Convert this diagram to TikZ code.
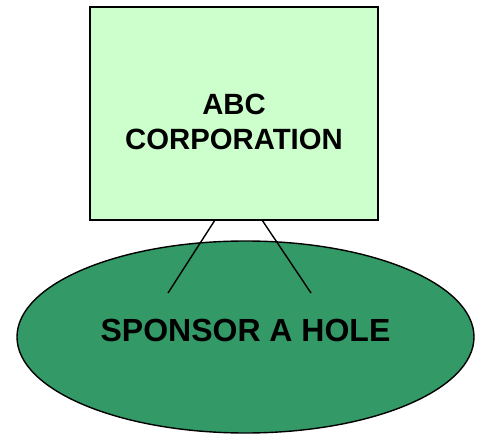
\documentclass[tikz,border=0pt]{standalone}
\usepackage{fontspec}
\setmainfont{Liberation Sans}
\usetikzlibrary{shapes.geometric}
\definecolor{boxgreen}{HTML}{CCFFCC}
\definecolor{holegreen}{HTML}{339966}

\begin{document}
\begin{tikzpicture}[x=1pt, y=-1pt,
    sponsorbox/.style={draw, line width=2pt, fill=boxgreen, minimum width=288pt, minimum height=213pt, inner sep=0pt},
    holeshape/.style={ellipse, draw, line width=1.4pt, fill=holegreen, minimum width=457pt, minimum height=192pt, inner sep=0pt},
    tie/.style={line width=1.4pt}]
                \useasboundingbox (0,0) rectangle (481,435);
                % Hộp công ty
                \node[sponsorbox] (box) at (234,113.5) {};
                \node[font=\bfseries\fontsize{29.3}{35}\selectfont, align=center] (boxtext) at (234,121.5) {ABC\\CORPORATION};
                % Hình elip
                \node[holeshape] (hole) at (245.5,337) {};
                \node[font=\bfseries\fontsize{32}{38}\selectfont] (holetext) at (245.5,330) {SPONSOR A HOLE};
                % Dây treo
                \coordinate (tieL) at (215,220);
                \coordinate (tieR) at (262,220);
                \coordinate (endL) at (168,293);
                \coordinate (endR) at (311,293);
                \draw[tie] (tieL) -- (endL);
                \draw[tie] (tieR) -- (endR);
            \end{tikzpicture}
\end{document}
